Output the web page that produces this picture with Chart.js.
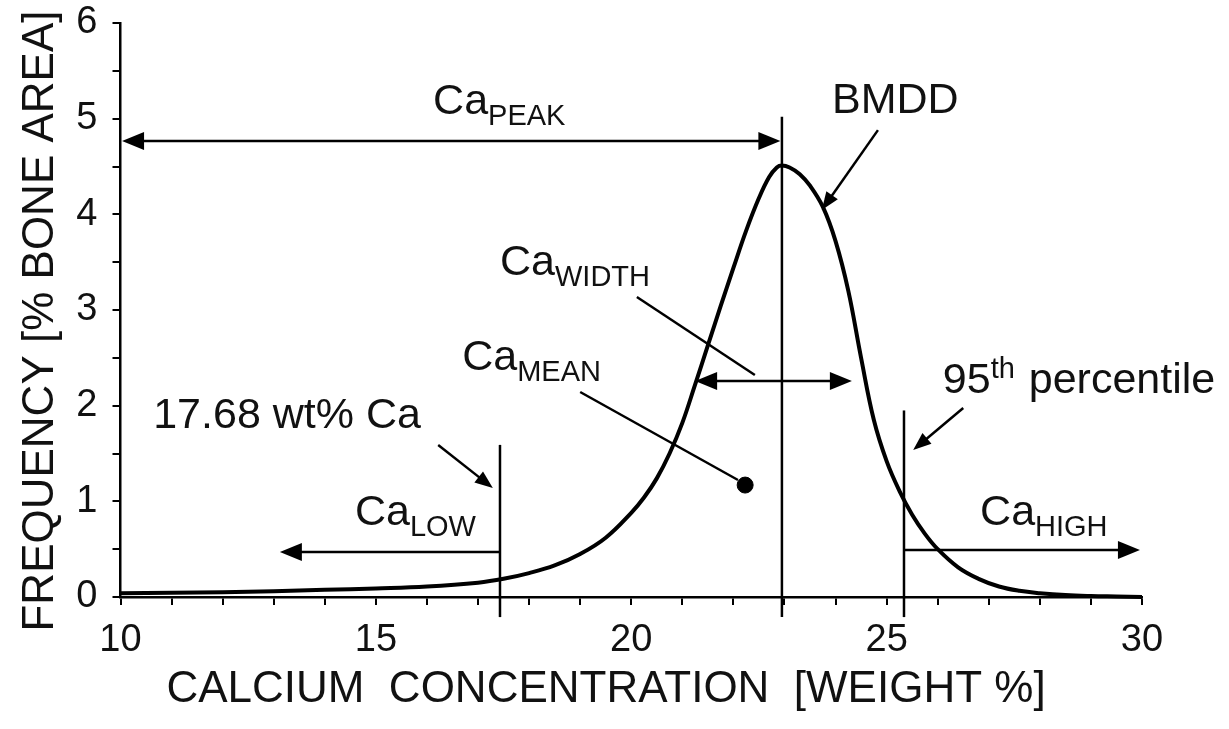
<!DOCTYPE html>
<html><head><meta charset="utf-8">
<script src="https://cdn.jsdelivr.net/npm/chart.js@4.4.1/dist/chart.umd.min.js"></script>
<style>html,body{margin:0;padding:0;background:#fff;overflow:hidden}</style>
</head><body>
<canvas id="c" width="1229" height="729"></canvas>
<script>
// ---- data ----
const CALCIUM = [10, 11, 12, 13, 14, 15, 16, 17, 17.5, 18, 18.5, 19, 19.5, 20, 20.25, 20.5, 20.75, 21, 21.25, 21.5, 21.75, 22, 22.25, 22.5, 22.7, 22.85, 22.95, 23.1, 23.3, 23.5, 23.75, 24, 24.25, 24.5, 24.75, 25, 25.25, 25.5, 25.75, 26, 26.4, 26.8, 27.2, 27.6, 28, 28.5, 29, 29.5, 30];
const FREQUENCY = [0.04, 0.045, 0.05, 0.06, 0.075, 0.09, 0.11, 0.15, 0.19, 0.25, 0.33, 0.45, 0.62, 0.88, 1.04, 1.24, 1.5, 1.82, 2.22, 2.63, 3.04, 3.44, 3.83, 4.17, 4.39, 4.49, 4.51, 4.49, 4.42, 4.3, 4.08, 3.72, 3.2, 2.5, 1.85, 1.42, 1.11, 0.86, 0.66, 0.5, 0.31, 0.19, 0.11, 0.065, 0.04, 0.02, 0.01, 0.005, 0.0];
const CA_MEAN_X = [22.23];
const CA_MEAN_Y = [1.17];
const CA_PEAK = 22.95;
const CA_LOW_LIMIT = 17.43;
const CA_HIGH_LIMIT = 25.34;
const X_TICK_LABELS = [10, 15, 20, 25, 30];
const Y_TICK_LABELS = [0, 1, 2, 3, 4, 5, 6];
const X_TITLE = 'CALCIUM  CONCENTRATION  [WEIGHT %]';
const Y_TITLE = 'FREQUENCY [% BONE AREA]';

// ---- annotation layout (data units) ----
const FONT = "'Liberation Sans', Arial, Helvetica, sans-serif";
const TXT = '#111';
const vLines = [
  {x: CA_PEAK, y0: -0.21, y1: 5.02},
  {x: CA_LOW_LIMIT, y0: -0.21, y1: 1.59},
  {x: CA_HIGH_LIMIT, y0: -0.21, y1: 1.95}
];
const arrows = [
  {x1: 10.03, y1: 4.766, x2: CA_PEAK - 0.03, y2: 4.766, both: true, big: true},
  {x1: 21.25, y1: 2.258, x2: 24.32, y2: 2.258, both: true, big: true},
  {x1: CA_LOW_LIMIT, y1: 0.47, x2: 13.12, y2: 0.47, big: true},
  {x1: CA_HIGH_LIMIT, y1: 0.49, x2: 29.96, y2: 0.49, big: true},
  {x1: 24.83, y1: 4.88, x2: 23.73, y2: 4.045},
  {x1: 16.22, y1: 1.589, x2: 17.29, y2: 1.139},
  {x1: 26.5, y1: 1.976, x2: 25.52, y2: 1.537}
];
const segs = [
  {x1: 20.11, y1: 3.136, x2: 22.42, y2: 2.32},
  {x1: 19.0, y1: 2.143, x2: 22.09, y2: 1.223}
];
const labels = [
  {x: 16.12, y: 5.05, parts: [['Ca', 0], ['PEAK', 1]]},
  {x: 23.93, y: 5.06, parts: [['BMDD', 0]]},
  {x: 17.43, y: 3.366, parts: [['Ca', 0], ['WIDTH', 1]]},
  {x: 16.69, y: 2.373, parts: [['Ca', 0], ['MEAN', 1]]},
  {x: 10.64, y: 1.767, parts: [['17.68 wt% Ca', 0]]},
  {x: 14.59, y: 0.753, parts: [['Ca', 0], ['LOW', 1]]},
  {x: 26.1, y: 2.132, parts: [['95', 0], ['th', 2], [' percentile', 0]]},
  {x: 26.83, y: 0.753, parts: [['Ca', 0], ['HIGH', 1]]}
];

function arrowHead(ctx, x1, y1, x2, y2, len, half) {
  const a = Math.atan2(y2 - y1, x2 - x1);
  ctx.beginPath();
  ctx.moveTo(x2, y2);
  ctx.lineTo(x2 - len * Math.cos(a) + half * Math.sin(a), y2 - len * Math.sin(a) - half * Math.cos(a));
  ctx.lineTo(x2 - len * Math.cos(a) - half * Math.sin(a), y2 - len * Math.sin(a) + half * Math.cos(a));
  ctx.closePath();
  ctx.fill();
}

const annotPlugin = {
  id: 'annot',
  afterDatasetsDraw(chart) {
    const {ctx, scales: {x, y}} = chart;
    const px = v => x.getPixelForValue(v), py = v => y.getPixelForValue(v);
    ctx.save();
    ctx.strokeStyle = '#000';
    ctx.fillStyle = '#000';
    ctx.lineWidth = 2.5;
    ctx.lineCap = 'butt';
    vLines.forEach(l => {
      ctx.beginPath(); ctx.moveTo(px(l.x), py(l.y0)); ctx.lineTo(px(l.x), py(l.y1)); ctx.stroke();
    });
    segs.forEach(s => {
      ctx.beginPath(); ctx.moveTo(px(s.x1), py(s.y1)); ctx.lineTo(px(s.x2), py(s.y2)); ctx.stroke();
    });
    arrows.forEach(a => {
      const X1 = px(a.x1), Y1 = py(a.y1), X2 = px(a.x2), Y2 = py(a.y2);
      const len = a.big ? 22 : 18, half = a.big ? 9 : 7;
      const ang = Math.atan2(Y2 - Y1, X2 - X1);
      const sx = a.both ? X1 + (len - 2) * Math.cos(ang) : X1;
      const sy = a.both ? Y1 + (len - 2) * Math.sin(ang) : Y1;
      ctx.beginPath();
      ctx.moveTo(sx, sy);
      ctx.lineTo(X2 - (len - 2) * Math.cos(ang), Y2 - (len - 2) * Math.sin(ang));
      ctx.stroke();
      arrowHead(ctx, X1, Y1, X2, Y2, len, half);
      if (a.both) arrowHead(ctx, X2, Y2, X1, Y1, len, half);
    });
    // texts
    ctx.fillStyle = TXT;
    ctx.textBaseline = 'alphabetic';
    ctx.textAlign = 'left';
    labels.forEach(l => {
      let cx = px(l.x);
      const by = py(l.y);
      l.parts.forEach(([t, kind]) => {
        const size = kind === 0 ? 43 : 29;
        const dy = kind === 1 ? 11 : (kind === 2 ? -15 : 0);
        ctx.font = size + 'px ' + FONT;
        ctx.fillText(t, cx, by + dy);
        cx += ctx.measureText(t).width + (kind === 2 ? 2 : 0);
      });
    });
    // axis titles
    ctx.font = '44px ' + FONT;
    ctx.textAlign = 'center';
    ctx.textBaseline = 'middle';
    ctx.fillText(X_TITLE, 606, 690);
    ctx.save();
    ctx.translate(41, 321);
    ctx.rotate(-Math.PI / 2);
    ctx.fillText(Y_TITLE, 0, 0);
    ctx.restore();
    ctx.restore();
  }
};

const curve = CALCIUM.map((v, i) => ({x: v, y: FREQUENCY[i]}));
const meanPt = CA_MEAN_X.map((v, i) => ({x: v, y: CA_MEAN_Y[i]}));

new Chart(document.getElementById('c'), {
  type: 'scatter',
  data: {
    datasets: [
      {label: 'BMDD', data: curve, showLine: true, borderColor: '#000', borderWidth: 4,
       pointRadius: 0, tension: 0.4, fill: false, clip: false},
      {label: 'CaMEAN', data: meanPt, pointRadius: 8, pointBackgroundColor: '#000', pointBorderColor: '#000', showLine: false}
    ]
  },
  options: {
    responsive: false,
    animation: false,
    devicePixelRatio: 1,
    layout: {padding: {top: 23, right: 87, left: 0, bottom: 0}},
    plugins: {legend: {display: false}, tooltip: {enabled: false}},
    scales: {
      x: {
        type: 'linear', min: 10, max: 30,
        border: {display: true, color: '#000', width: 2.5},
        grid: {drawOnChartArea: false, drawTicks: true, tickLength: 8, color: '#000', lineWidth: 2},
        ticks: {stepSize: 1, autoSkip: false, maxRotation: 0, padding: 13, color: TXT,
                font: {family: FONT, size: 38},
                callback: v => X_TICK_LABELS.includes(v) ? String(v) : ''},
        afterFit: s => { s.height = 132; s.paddingLeft = 0; s.paddingRight = 0; }
      },
      y: {
        type: 'linear', min: 0, max: 6,
        border: {display: true, color: '#000', width: 2.5},
        grid: {drawOnChartArea: false, drawTicks: true, tickLength: 8, color: '#000', lineWidth: 2},
        ticks: {stepSize: 0.5, autoSkip: false, padding: 15, color: TXT,
                font: {family: FONT, size: 38},
                callback: v => Y_TICK_LABELS.includes(v) ? String(v) : ''},
        afterFit: s => { s.width = 120.5; s.paddingTop = 0; s.paddingBottom = 0; }
      }
    }
  },
  plugins: [annotPlugin]
});
</script>
</body></html>
